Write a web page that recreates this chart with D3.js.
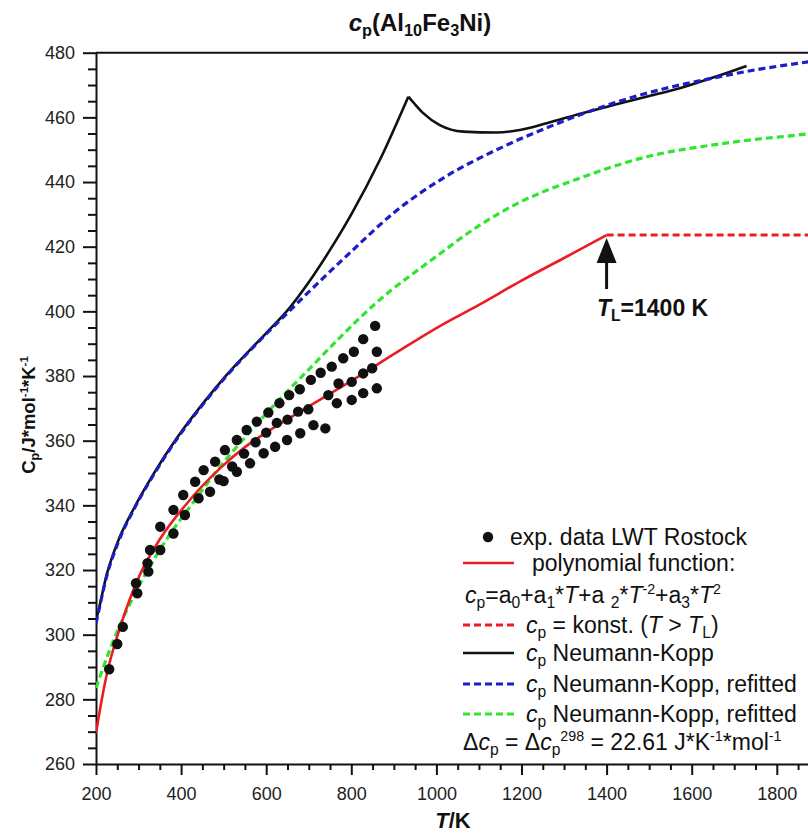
<!DOCTYPE html>
<html>
<head>
<meta charset="utf-8">
<script src="https://cdn.jsdelivr.net/npm/d3@7"></script>
<style>
  body { margin: 0; background: #fff; }
  svg { display: block; font-family: "Liberation Sans", Arial, sans-serif; }
</style>
</head>
<body>
<div id="chart"></div>
<script>
// ---- data ----
const xTicks = [200, 400, 600, 800, 1000, 1200, 1400, 1600, 1800];
const yTicks = [260, 280, 300, 320, 340, 360, 380, 400, 420, 440, 460, 480];

// exp. data LWT Rostock
const expT  = [231, 250, 263, 294, 297, 321, 323, 327, 351, 351, 382, 382, 405, 409, 433, 441, 453, 468, 480,
               503, 531, 554, 578, 605, 631, 654, 679, 705, 728, 754, 781, 806, 828, 856,
               490, 520, 548, 575, 600, 625, 650, 675, 699,
               500, 531, 562, 594, 621, 649, 680, 711, 739,
               860, 849, 828, 801, 770, 746, 766, 801, 828, 860];
const expCp = [289.3, 297.1, 302.4, 315.9, 312.8, 322.1, 319.5, 326.2, 326.2, 333.4, 331.3, 338.6, 343.2, 337.0, 347.3, 342.2, 350.9, 344.2, 353.5,
               357.1, 360.2, 363.3, 365.9, 368.7, 371.6, 374.1, 375.9, 378.8, 381.0, 382.9, 385.5, 387.5, 391.4, 395.5,
               348.0, 352.0, 356.0, 359.5, 362.5, 365.5, 366.5, 369.0, 369.7,
               347.5, 350.4, 353.0, 356.1, 358.1, 360.2, 362.3, 364.8, 363.8,
               387.5, 382.4, 380.8, 378.2, 377.7, 374.1, 371.6, 372.6, 374.7, 376.2];

// polynomial function (red, solid)
const polyT  = [200, 213, 225, 256, 303, 350, 413, 492, 550, 600, 680, 800, 915, 1009, 1100, 1200, 1300, 1400];
const polyCp = [269.6, 279.5, 287.5, 302, 318.5, 329.5, 340.5, 351.5, 358, 362.5, 369, 378.5, 388, 395.5, 402, 409.5, 416.5, 423.6];

// cp = konst. (T > TL) (red, dashed)
const konstT  = [1400, 1880];
const konstCp = [423.6, 423.6];

// Neumann-Kopp (black)
const nkT  = [200, 205, 225, 252, 288, 331, 390, 450, 500, 600, 650, 700, 750, 800, 867, 934,
              946, 969, 1008, 1063, 1142, 1196, 1259, 1340, 1416, 1500, 1572, 1650, 1729];
const nkCp = [304.5, 307, 318.5, 329, 338.8, 348.8, 360.8, 371.3, 379.3, 393.3, 400.3, 409, 419, 430, 446.8, 466.4,
              464.6, 461.3, 457.6, 455.6, 455.3, 456.1, 458.2, 461.2, 463.8, 466.6, 469, 472.3, 475.9];

// Neumann-Kopp, refitted (blue, dashed)
const blueT  = [200, 205, 225, 252, 288, 331, 390, 450, 500, 600, 650, 700, 800, 900, 1017, 1150, 1275, 1416, 1530, 1652, 1750, 1849, 1880];
const blueCp = [303.5, 306.5, 318, 328.5, 338.5, 348.5, 360.5, 371, 379, 393, 399.5, 406, 418.5, 430.5, 441.3, 450.5, 457.6, 464.4, 468.7, 472.2, 474.7, 476.7, 477.3];

// Neumann-Kopp, refitted (green, dashed)
const greenT  = [200, 233, 272, 311, 366, 429, 492, 550, 633, 700, 770, 860, 1000, 1100, 1200, 1337, 1494, 1651, 1750, 1847, 1880];
const greenCp = [283.5, 295.5, 307.5, 317.5, 329.5, 341, 352, 361, 373, 382, 391.5, 402.8, 417, 426.5, 434, 441.2, 447.8, 451.5, 453.2, 454.5, 455];

const TL = 1400;

// ---- layout ----
const W = 808, H = 837;
const FONT = 23;
const RED = "#ec1c24", BLUE = "#1c1cc8", GREEN = "#2ee62e";

const svg = d3.select("#chart").append("svg")
  .attr("width", W).attr("height", H);

const x = d3.scaleLinear().domain([200, 2000]).range([96, 96 + 1800 * 0.4255]);
const y = d3.scaleLinear().domain([260, 480]).range([764, 52.7]);

svg.append("clipPath").attr("id", "plot")
  .append("rect").attr("x", 96).attr("y", 52).attr("width", W - 96).attr("height", 713);

// rich text helper: parts = [[text, flags]], flags may hold "i", "sub", "sup"
function rich(sel, px, py, parts, size, weight) {
  const t = sel.append("text")
    .attr("x", px).attr("y", py)
    .attr("font-size", size)
    .attr("font-weight", weight || "normal")
    .attr("fill", "#111");
  let off = 0;
  parts.forEach(([s, f = ""]) => {
    let target = 0, fs = size;
    if (f.includes("sub")) { target = size * 0.22; fs = size * 0.68; }
    if (f.includes("sup")) { target = -size * 0.38; fs = size * 0.62; }
    t.append("tspan")
      .attr("dy", target - off)
      .attr("font-size", fs)
      .attr("font-style", f.includes("i") ? "italic" : "normal")
      .text(s);
    off = target;
  });
  return t;
}

// ---- axes ----
svg.append("g").attr("transform", "translate(96,0)")
  .call(d3.axisLeft(y).tickValues(yTicks).tickSize(13).tickPadding(8).tickSizeOuter(0));
svg.append("g").attr("transform", "translate(96,0)")
  .call(d3.axisLeft(y).tickValues(d3.range(265, 480, 5).filter(v => v % 20 !== 0)).tickSize(8).tickFormat("").tickSizeOuter(0))
  .select(".domain").remove();

svg.append("g").attr("transform", "translate(0,764)")
  .call(d3.axisBottom(x).tickValues(xTicks).tickFormat(d3.format("d")).tickSize(11).tickPadding(12).tickSizeOuter(0));
svg.append("g").attr("transform", "translate(0,764)")
  .call(d3.axisBottom(x).tickValues(d3.range(250, 2000, 50).filter(v => v % 200 !== 0)).tickSize(6).tickFormat("").tickSizeOuter(0))
  .select(".domain").remove();

svg.selectAll(".tick line, .domain").attr("stroke", "#111").attr("stroke-width", 2);
svg.selectAll(".tick text").attr("font-size", 18).attr("fill", "#222")
  .attr("font-family", "\"Liberation Sans\", Arial, sans-serif");

// top frame line
svg.append("line")
  .attr("x1", 96).attr("x2", W).attr("y1", y(480)).attr("y2", y(480))
  .attr("stroke", "#111").attr("stroke-width", 2);

// ---- titles ----
rich(svg, 420, 31, [["c", "i"], ["p", "sub"], ["(Al"], ["10", "sub"], ["Fe"], ["3", "sub"], ["Ni)"]], 24, "bold")
  .attr("text-anchor", "middle");

rich(svg, 453, 828, [["T", "i"], ["/K"]], 22, "bold").attr("text-anchor", "middle");

rich(svg, 0, 0, [["C"], ["p", "sub"], ["/J*mol"], ["-1", "sup"], ["*K"], ["-1", "sup"]], 18.5, "bold")
  .attr("text-anchor", "middle")
  .attr("transform", "translate(35,415) rotate(-90)");

// ---- curves ----
const plot = svg.append("g").attr("clip-path", "url(#plot)");
const line = d3.line().x(d => x(d[0])).y(d => y(d[1])).curve(d3.curveMonotoneX);

function series(ts, vs) { return ts.map((t, i) => [t, vs[i]]); }

const peak = nkCp.indexOf(d3.max(nkCp.slice(0, 20)));
const nk = series(nkT, nkCp);

plot.append("path").datum(series(greenT, greenCp))
  .attr("d", line).attr("fill", "none").attr("stroke", GREEN)
  .attr("stroke-width", 3.2).attr("stroke-dasharray", "7,4");

plot.append("path").datum(series(polyT, polyCp))
  .attr("d", line).attr("fill", "none").attr("stroke", RED).attr("stroke-width", 2.6);

plot.append("path").datum(series(konstT, konstCp))
  .attr("d", line).attr("fill", "none").attr("stroke", RED)
  .attr("stroke-width", 3).attr("stroke-dasharray", "7,4");

[nk.slice(0, peak + 1), nk.slice(peak)].forEach(part => {
  plot.append("path").datum(part)
    .attr("d", line).attr("fill", "none").attr("stroke", "#111").attr("stroke-width", 2.6);
});

plot.append("path").datum(series(blueT, blueCp))
  .attr("d", line).attr("fill", "none").attr("stroke", BLUE)
  .attr("stroke-width", 3.2).attr("stroke-dasharray", "7,4");

plot.selectAll("circle.exp")
  .data(series(expT, expCp))
  .enter().append("circle")
  .attr("class", "exp")
  .attr("cx", d => x(d[0])).attr("cy", d => y(d[1]))
  .attr("r", 5.2).attr("fill", "#111");

// ---- TL annotation ----
const ax = x(TL);
svg.append("line")
  .attr("x1", ax).attr("x2", ax).attr("y1", 289).attr("y2", 258)
  .attr("stroke", "#111").attr("stroke-width", 3);
svg.append("path")
  .attr("d", `M${ax},${y(423.6) + 3} L${ax - 10},${263} L${ax + 10},${263} Z`)
  .attr("fill", "#111");
rich(svg, 597, 316, [["T", "i"], ["L", "sub"], ["=1400 K"]], 23, "bold");

// ---- legend ----
const leg = svg.append("g");
const lx1 = 463, lx2 = 514, tx = 526;
const rows = [537, 563, 595, 625, 653, 684, 714, 742];
const base = 8;

leg.append("circle").attr("cx", 488).attr("cy", rows[0]).attr("r", 5.2).attr("fill", "#111");
rich(leg, 510, rows[0] + base, [["exp. data LWT Rostock"]], FONT);

function sample(row, color, dash) {
  leg.append("line")
    .attr("x1", lx1).attr("x2", lx2).attr("y1", row).attr("y2", row)
    .attr("stroke", color).attr("stroke-width", dash ? 3.2 : 2.6)
    .attr("stroke-dasharray", dash ? "7,4" : null);
}

sample(rows[1], RED, false);
rich(leg, 532, rows[1] + base, [["polynomial function:"]], FONT);

rich(leg, 465, rows[2] + base, [
  ["c", "i"], ["p", "sub"], ["=a"], ["0", "sub"], ["+a"], ["1", "sub"], ["*"], ["T", "i"],
  ["+a "], ["2", "sub"], ["*"], ["T", "i"], ["-2", "sup"], ["+a"], ["3", "sub"], ["*"], ["T", "i"], ["2", "sup"]
], FONT);

sample(rows[3], RED, true);
rich(leg, tx, rows[3] + base, [["c", "i"], ["p", "sub"], [" = konst. ("], ["T", "i"], [" > "], ["T", "i"], ["L", "sub"], [")"]], FONT);

sample(rows[4], "#111", false);
rich(leg, tx, rows[4] + base, [["c", "i"], ["p", "sub"], [" Neumann-Kopp"]], FONT);

sample(rows[5], BLUE, true);
rich(leg, tx, rows[5] + base, [["c", "i"], ["p", "sub"], [" Neumann-Kopp, refitted"]], FONT);

sample(rows[6], GREEN, true);
rich(leg, tx, rows[6] + base, [["c", "i"], ["p", "sub"], [" Neumann-Kopp, refitted"]], FONT);

rich(leg, 463, rows[7] + base, [
  ["Δ"], ["c", "i"], ["p", "sub"], [" = Δ"], ["c", "i"], ["p", "sub"], ["298", "sup"],
  [" = 22.61 J*K"], ["-1", "sup"], ["*mol"], ["-1", "sup"]
], FONT);
</script>
</body>
</html>
